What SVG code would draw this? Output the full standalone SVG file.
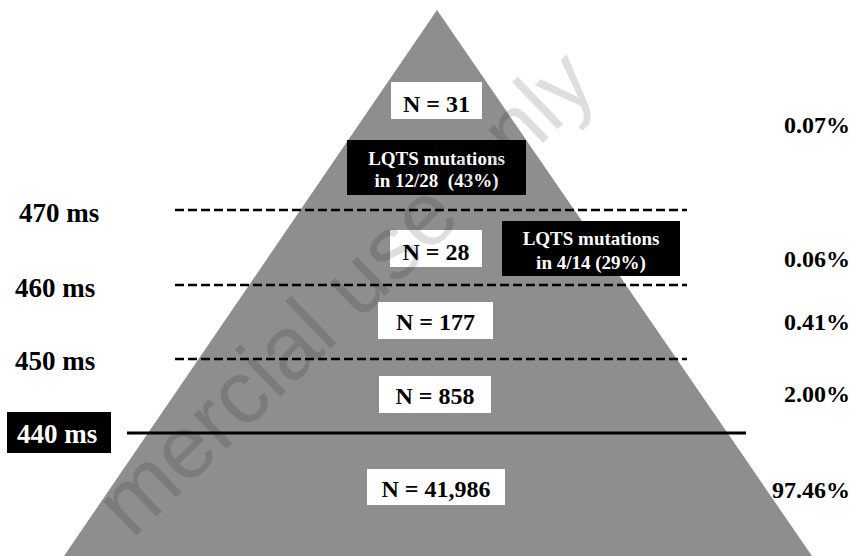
<svg xmlns="http://www.w3.org/2000/svg" width="859" height="556" viewBox="0 0 859 556">
  <style>
    .t { font-family: "Liberation Serif", "Times New Roman", serif; font-weight: bold; }
    .n { font-size: 24px; text-anchor: middle; fill: #000; }
    .ms { font-size: 27px; fill: #000; }
    .pct { font-size: 24px; text-anchor: end; fill: #000; }
    .lq { font-size: 19px; text-anchor: middle; fill: #fff; white-space: pre; }
    .wbox { fill: #fff; }
    .bbox { fill: #000; }
    .dash { stroke: #000; stroke-width: 2.5; stroke-dasharray: 9 4; fill: none; }
    .solid { stroke: #000; stroke-width: 3; fill: none; }
    .wm { font-family: "Liberation Sans", Arial, sans-serif; font-size: 90px; fill: #000; fill-opacity: 0.13; }
  </style>
  <rect width="859" height="556" fill="#fff"/>
  <polygon id="pyramid" points="437,10 64,556 812,556" fill="#8e8e8e"/>

  <g id="connectors">
    <line class="dash" x1="175" y1="210" x2="687" y2="210"/>
    <line class="dash" x1="175" y1="285" x2="687" y2="285"/>
    <line class="dash" x1="175" y1="359" x2="687" y2="359"/>
    <line class="solid" x1="127" y1="433" x2="746" y2="433"/>
  </g>

  <g id="n31">
    <rect class="wbox" x="391" y="82" width="91" height="37"/>
    <text class="t n" x="436.5" y="112">N = 31</text>
  </g>
  <g id="lqts1">
    <rect class="bbox" x="347" y="140" width="179" height="55"/>
    <text class="t lq" x="436.5" y="165">LQTS mutations</text>
    <text class="t lq" x="436.5" y="187" xml:space="preserve">in 12/28  (43%)</text>
  </g>
  <g id="n28">
    <rect class="wbox" x="390" y="230" width="92" height="37"/>
    <text class="t n" x="436" y="260">N = 28</text>
  </g>
  <g id="lqts2">
    <rect class="bbox" x="502" y="221" width="178" height="55"/>
    <text class="t lq" x="591" y="245">LQTS mutations</text>
    <text class="t lq" x="591" y="269">in 4/14 (29%)</text>
  </g>
  <g id="n177">
    <rect class="wbox" x="378" y="302" width="115" height="37"/>
    <text class="t n" x="435.5" y="330">N = 177</text>
  </g>
  <g id="n858">
    <rect class="wbox" x="379" y="376" width="112" height="37"/>
    <text class="t n" x="435" y="404">N = 858</text>
  </g>
  <g id="n41986">
    <rect class="wbox" x="367" y="469" width="138" height="36"/>
    <text class="t n" x="436" y="497">N = 41,986</text>
  </g>

  <g id="label470"><text class="t ms" x="19" y="222">470 ms</text></g>
  <g id="label460"><text class="t ms" x="15" y="297">460 ms</text></g>
  <g id="label450"><text class="t ms" x="15" y="370">450 ms</text></g>
  <g id="label440">
    <rect class="bbox" x="7" y="412" width="104" height="41"/>
    <text class="t ms" x="17" y="443" style="fill:#fff">440 ms</text>
  </g>

  <g id="pct007"><text class="t pct" x="850" y="133">0.07%</text></g>
  <g id="pct006"><text class="t pct" x="850" y="267">0.06%</text></g>
  <g id="pct041"><text class="t pct" x="850" y="330">0.41%</text></g>
  <g id="pct200"><text class="t pct" x="850" y="402">2.00%</text></g>
  <g id="pct9746"><text class="t pct" x="850" y="498">97.46%</text></g>

  <g id="watermark">
    <text class="wm" transform="translate(132,540) rotate(-44)">mercial use only</text>
  </g>
</svg>
